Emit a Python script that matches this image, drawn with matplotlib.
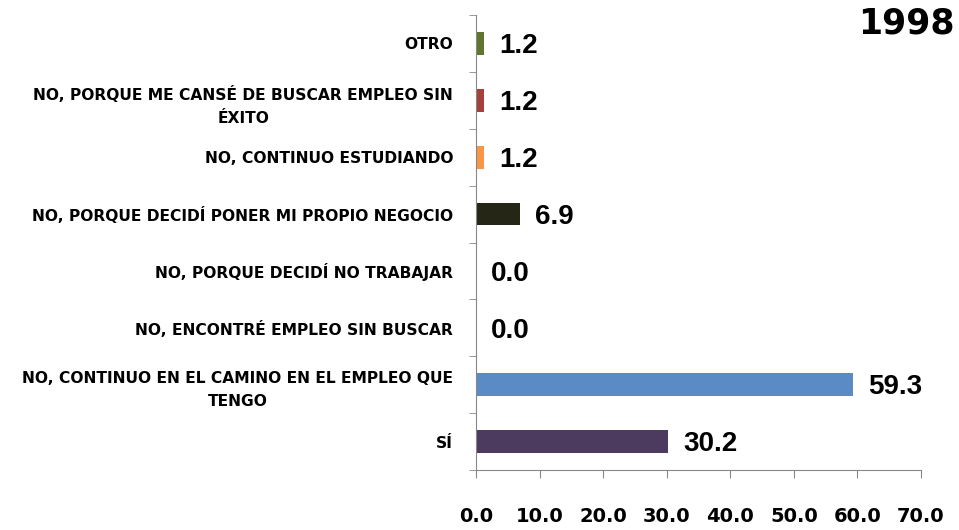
#!/usr/bin/env python3
"""Horizontal bar chart, 1998 survey answers."""

import matplotlib

matplotlib.use("Agg")
import matplotlib.pyplot as plt
from matplotlib.ticker import FixedLocator

CATEGORIES = [
    "SÍ",
    "NO, CONTINUO EN EL CAMINO EN EL EMPLEO QUE\nTENGO",
    "NO, ENCONTRÉ EMPLEO SIN BUSCAR",
    "NO, PORQUE DECIDÍ NO TRABAJAR",
    "NO, PORQUE DECIDÍ PONER MI PROPIO NEGOCIO",
    "NO, CONTINUO ESTUDIANDO",
    "NO, PORQUE ME CANSÉ DE BUSCAR EMPLEO SIN\nÉXITO",
    "OTRO",
]
VALUES = [30.2, 59.3, 0.0, 0.0, 6.9, 1.2, 1.2, 1.2]
BAR_COLORS = ["#4D3B5F", "#5B8BC5", "#5B8BC5", "#5B8BC5", "#262617", "#F79646", "#A5403D", "#5F7530"]
X_TICKS = [0, 10, 20, 30, 40, 50, 60, 70]
TITLE = "1998"

LABEL_FONT = ["DejaVu Sans"]
NUM_FONT = ["Liberation Sans", "DejaVu Sans"]
GREY = "#888888"


def main() -> None:
    fig = plt.figure(figsize=(9.59, 5.30), dpi=100)
    ax = fig.add_axes([476 / 959, 1 - 470 / 530, (921 - 476) / 959, (470 - 15) / 530])

    ypos = list(range(len(CATEGORIES)))
    ax.barh(ypos, VALUES, height=0.4, color=BAR_COLORS, edgecolor="none")

    for y, v in zip(ypos, VALUES):
        ax.annotate(
            f"{v:.1f}",
            xy=(v, y),
            xytext=(11, -2),
            textcoords="offset points",
            ha="left",
            va="center",
            fontsize=20,
            fontweight="bold",
            family=NUM_FONT,
        )

    ax.set_xlim(0, 70)
    ax.set_ylim(-0.5, len(CATEGORIES) - 0.5)

    ax.set_xticks(X_TICKS)
    ax.set_xticklabels([f"{t:.1f}" for t in X_TICKS], family="DejaVu Sans", fontsize=14, fontweight="bold")
    ax.tick_params(axis="x", length=6, color=GREY, pad=21)

    ax.set_yticks(ypos)
    ax.set_yticklabels(CATEGORIES, family=LABEL_FONT, fontsize=11.2, fontweight="bold",
                       multialignment="center", linespacing=1.65)
    ax.tick_params(axis="y", which="major", length=0, pad=16.5)
    ax.yaxis.set_minor_locator(FixedLocator([i - 0.5 for i in range(len(CATEGORIES) + 1)]))
    ax.tick_params(axis="y", which="minor", length=5, color=GREY)

    for side in ("top", "right"):
        ax.spines[side].set_visible(False)
    for side in ("left", "bottom"):
        ax.spines[side].set_color(GREY)
        ax.spines[side].set_linewidth(0.8)

    fig.text(955 / 959, 1 - 7 / 530, TITLE, ha="right", va="top", fontsize=25,
             fontweight="bold", family="DejaVu Sans")

    fig.savefig("out.png", dpi=100)
    plt.close(fig)


if __name__ == "__main__":
    main()
